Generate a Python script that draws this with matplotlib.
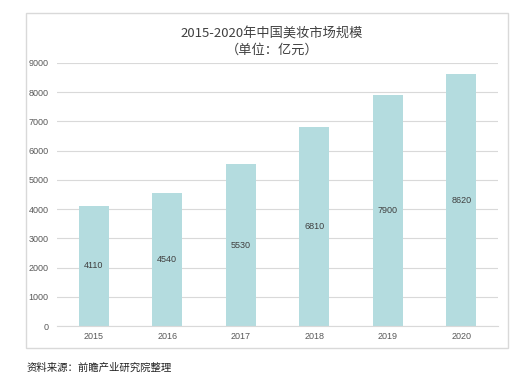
import matplotlib
matplotlib.use("Agg")
import matplotlib.pyplot as plt
from matplotlib.patches import Rectangle

plt.rcParams['font.family'] = ['Noto Sans CJK SC', 'DejaVu Sans']

years = ["2015", "2016", "2017", "2018", "2019", "2020"]
values = [4110, 4540, 5530, 6810, 7900, 8620]
yticks = [0, 1000, 2000, 3000, 4000, 5000, 6000, 7000, 8000, 9000]
title = "2015-2020年中国美妆市场规模\n（单位：亿元）"
source = "资料来源：前瞻产业研究院整理"

fig = plt.figure(figsize=(5.31, 3.84), dpi=100)
fig.patch.set_facecolor("white")

# outer border box
fig.patches.append(Rectangle((26/531, 1-348/384), (508-26)/531, (348-13)/384,
                             transform=fig.transFigure, fill=False,
                             edgecolor="#d9d9d9", linewidth=1.0))

ax = fig.add_axes([57/531, 1-326/384, (498-57)/531, (326-63)/384])
x = range(len(years))
bars = ax.bar(x, values, width=0.41, color="#b4dcdf", zorder=2)
for xi, v in zip(x, values):
    ax.text(xi, v/2, str(v), ha="center", va="center", fontsize=6.5,
            color="#404040", family="Liberation Sans", zorder=3)

ax.set_xlim(-0.5, len(years)-0.5)
ax.set_ylim(0, 9000)
ax.set_yticks(yticks)
ax.set_yticklabels([str(t) for t in yticks], family="Liberation Sans")
ax.set_xticks(list(x))
ax.set_xticklabels(years, family="Liberation Sans")
ax.tick_params(axis="both", length=0, labelsize=6.5, labelcolor="#595959")
ax.tick_params(axis="y", pad=6)
ax.tick_params(axis="x", pad=4)
ax.grid(axis="y", color="#d9d9d9", linewidth=0.8, zorder=0)
for s in ["top", "right", "left"]:
    ax.spines[s].set_visible(False)
ax.spines["bottom"].set_color("#d9d9d9")
ax.spines["bottom"].set_linewidth(0.8)

fig.text(272/531, 1-42/384, title, ha="center", va="center", fontsize=9.5,
         color="#404040", linespacing=1.25)
fig.text(27/531, 1-368/384, source, ha="left", va="center", fontsize=7.5,
         color="#222222")

fig.savefig("out.png", dpi=100)
